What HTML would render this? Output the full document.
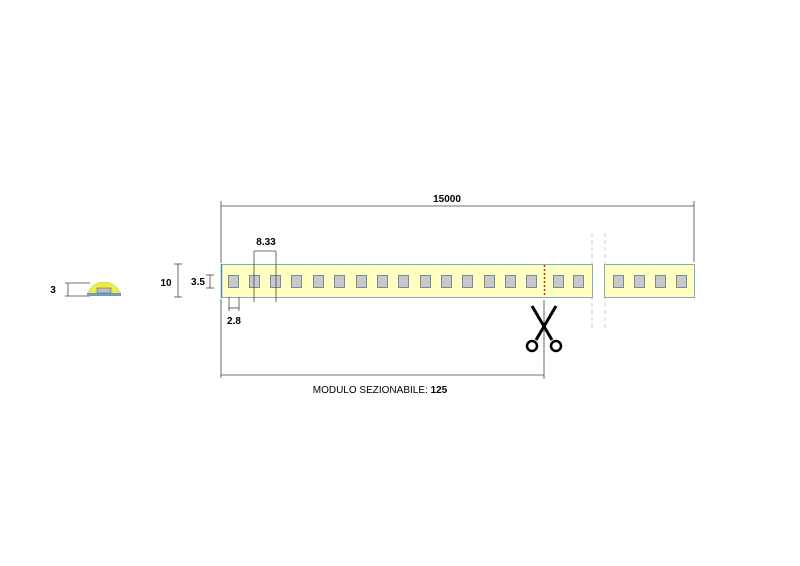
<!DOCTYPE html>
<html><head><style>body{margin:0;background:#fff}svg{display:block}text{font-family:"Liberation Sans",sans-serif;font-size:10px;fill:#000}</style></head>
<body><svg width="800" height="566" viewBox="0 0 800 566">
<g stroke="#ccc" stroke-dasharray="4,3"><line x1="592" y1="233" x2="592" y2="330"/><line x1="605" y1="233" x2="605" y2="330"/></g>
<rect x="221.5" y="264.5" width="371" height="33" fill="#ffffc0" stroke="#8ab" />
<rect x="604.5" y="264.5" width="90" height="33" fill="#ffffc0" stroke="#8ab" />
<line x1="221.5" y1="264" x2="221.5" y2="298" stroke="#48c" stroke-width="1.5"/>
<g fill="#c8c8c8" stroke="#789">
<rect x="228.5" y="275.5" width="10" height="12"/><rect x="249.5" y="275.5" width="10" height="12"/><rect x="270.5" y="275.5" width="10" height="12"/><rect x="291.5" y="275.5" width="10" height="12"/><rect x="313.5" y="275.5" width="10" height="12"/><rect x="334.5" y="275.5" width="10" height="12"/><rect x="356.5" y="275.5" width="10" height="12"/><rect x="377.5" y="275.5" width="10" height="12"/><rect x="398.5" y="275.5" width="10" height="12"/><rect x="420.5" y="275.5" width="10" height="12"/><rect x="441.5" y="275.5" width="10" height="12"/><rect x="462.5" y="275.5" width="10" height="12"/><rect x="484.5" y="275.5" width="10" height="12"/><rect x="505.5" y="275.5" width="10" height="12"/><rect x="526.5" y="275.5" width="10" height="12"/><rect x="553.5" y="275.5" width="10" height="12"/><rect x="573.5" y="275.5" width="10" height="12"/><rect x="613.5" y="275.5" width="10" height="12"/><rect x="634.5" y="275.5" width="10" height="12"/><rect x="655.5" y="275.5" width="10" height="12"/><rect x="676.5" y="275.5" width="10" height="12"/>
</g>
<g stroke="#444" stroke-width="0.8" fill="none">
<line x1="221" y1="206" x2="694" y2="206"/>
<line x1="221" y1="201" x2="221" y2="263"/>
<line x1="221" y1="299" x2="221" y2="378"/>
<line x1="694" y1="201" x2="694" y2="262"/>
<line x1="221" y1="375" x2="544" y2="375"/>
<line x1="544" y1="300" x2="544" y2="379"/>
<line x1="178" y1="264" x2="178" y2="297"/>
<line x1="174" y1="264" x2="182" y2="264"/>
<line x1="174" y1="297" x2="182" y2="297"/>
<line x1="210" y1="275" x2="210" y2="288"/>
<line x1="206" y1="275" x2="214" y2="275"/>
<line x1="206" y1="288" x2="214" y2="288"/>
<line x1="254" y1="251" x2="276" y2="251"/>
<line x1="254" y1="251" x2="254" y2="302"/>
<line x1="276" y1="251" x2="276" y2="302"/>
<line x1="228" y1="308" x2="239" y2="308"/>
<line x1="229" y1="297" x2="229" y2="311"/>
<line x1="239" y1="297" x2="239" y2="311"/>
<line x1="68" y1="283" x2="68" y2="296"/>
<line x1="65" y1="283" x2="90" y2="283"/>
<line x1="65" y1="296" x2="90" y2="296"/>
</g>
<line x1="544.5" y1="265" x2="544.5" y2="297" stroke="#d22" stroke-width="1.5" stroke-dasharray="2,2"/>
<g stroke="#000" stroke-width="3" fill="none">
<line x1="532" y1="306" x2="552" y2="340"/><line x1="556" y1="306" x2="536" y2="340"/>
<circle cx="532" cy="346" r="5" stroke-width="2.5"/><circle cx="556" cy="346" r="5" stroke-width="2.5"/>
</g>
<path d="M87 294 Q92 282 104 282 Q116 282 121 294 Z" fill="#f2ee40" stroke="#bb9" stroke-width="0.5"/>
<rect x="87" y="293" width="34" height="3" fill="#6a9ccc"/>
<rect x="97" y="288" width="14" height="5" fill="#bbb" stroke="#666" stroke-width="0.6"/>
<text x="447" y="202" text-anchor="middle" font-weight="bold">15000</text>
<text x="266" y="245" text-anchor="middle" font-weight="bold">8.33</text>
<text x="166" y="286" text-anchor="middle" font-weight="bold">10</text>
<text x="198" y="285" text-anchor="middle" font-weight="bold">3.5</text>
<text x="234" y="324" text-anchor="middle" font-weight="bold">2.8</text>
<text x="53" y="293" text-anchor="middle" font-weight="bold">3</text>
<text x="380" y="393" text-anchor="middle">MODULO SEZIONABILE: <tspan font-weight="bold">125</tspan></text>
</svg></body></html>
